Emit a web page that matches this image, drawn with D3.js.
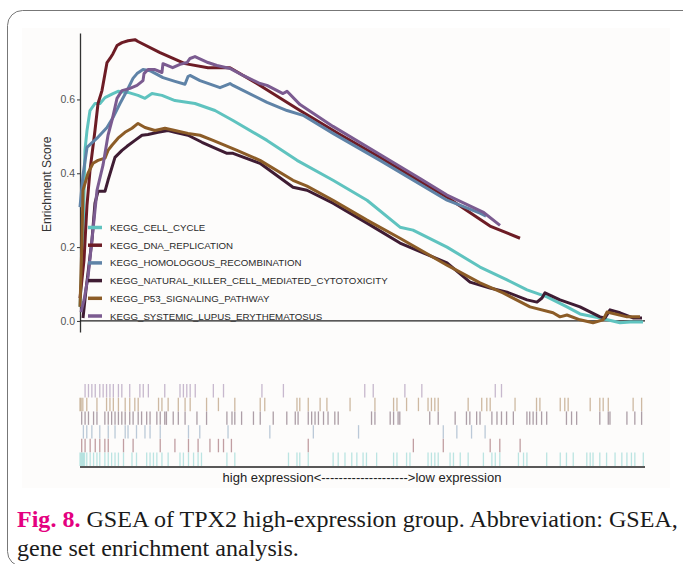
<!DOCTYPE html>
<html>
<head>
<meta charset="utf-8">
<script src="https://cdn.jsdelivr.net/npm/d3@7"></script>
<style>
  body { margin: 0; background: #fff; }
  svg { display: block; }
</style>
</head>
<body>
<main></main>
<script>
// gene sets, in legend order
const setNames = ["KEGG_CELL_CYCLE", "KEGG_DNA_REPLICATION", "KEGG_HOMOLOGOUS_RECOMBINATION",
  "KEGG_NATURAL_KILLER_CELL_MEDIATED_CYTOTOXICITY", "KEGG_P53_SIGNALING_PATHWAY",
  "KEGG_SYSTEMIC_LUPUS_ERYTHEMATOSUS"];
const setColors = ["#5fc3bf", "#6d1c25", "#5f83a7", "#3f1c33", "#8c5c27", "#7b5b90"];

// running enrichment score: [rank %, ES]
const esCellCycle = [[0,0.038],[0.53,0.219],[0.88,0.462],[1.24,0.516],[1.77,0.57],[2.65,0.589],[3.54,0.589],
  [4.42,0.605],[5.84,0.616],[6.73,0.622],[8.5,0.619],[10.27,0.611],[11.5,0.603],[12.74,0.616],[14.51,0.611],
  [16.81,0.597],[20.35,0.589],[23.89,0.57],[27.08,0.543],[33.1,0.489],[38.41,0.435],[44.78,0.381],[50.8,0.327],
  [56.64,0.254],[58.94,0.246],[64.96,0.2],[70.8,0.146],[75.58,0.111],[79.12,0.084],[82.65,0.065],[86.19,0.038],
  [88.5,0.019],[92.04,0.008],[95.58,-0.005],[97.35,-0.003],[99.65,-0.003]];
const esDnaReplication = [[0,0.062],[0.71,0.165],[1.24,0.314],[1.77,0.408],[2.65,0.516],[3.19,0.589],[3.89,0.624],
  [4.78,0.7],[5.31,0.711],[5.84,0.724],[6.55,0.746],[7.43,0.754],[8.5,0.759],[9.73,0.762],[10.27,0.757],
  [14.16,0.727],[18.58,0.697],[22.65,0.686],[26.55,0.686],[31.86,0.638],[38.94,0.57],[46.02,0.505],[53.1,0.443],
  [60.18,0.378],[64.96,0.335],[72.57,0.257],[77.88,0.224]];
const esHomologous = [[0,0.308],[0.53,0.395],[1.24,0.47],[3.01,0.495],[4.78,0.524],[5.84,0.551],[7.08,0.589],
  [8.32,0.624],[9.38,0.657],[10.09,0.67],[11.15,0.681],[12.39,0.678],[14.69,0.659],[16.81,0.649],[18.58,0.641],
  [19.12,0.662],[19.47,0.665],[21.24,0.651],[24.78,0.632],[26.55,0.643],[27.08,0.638],[33.1,0.592],[36.64,0.57],
  [39.47,0.557],[44.78,0.508],[53.1,0.435],[64.96,0.327],[70.8,0.292],[71.86,0.284]];
const esNkCell = [[0.53,0.008],[1.06,0.084],[2.12,0.219],[2.65,0.319],[3.19,0.351],[4.42,0.351],[4.96,0.381],
  [6.19,0.443],[7.43,0.462],[8.32,0.473],[9.73,0.489],[10.97,0.503],[12.04,0.505],[13.81,0.511],[15.58,0.516],
  [16.81,0.511],[19.12,0.503],[21.59,0.484],[23.89,0.468],[26.02,0.454],[27.08,0.454],[31.86,0.427],[37.7,0.362],
  [40.18,0.354],[44.78,0.319],[50.8,0.265],[56.64,0.211],[64.96,0.157],[69.03,0.105],[72.57,0.089],[75.58,0.078],
  [79.12,0.057],[80.88,0.051],[81.77,0.062],[82.3,0.076],[84.96,0.057],[88.5,0.038],[92.04,0.011],[92.92,0.008],
  [93.81,0.03],[95.58,0.022],[97.88,0.008],[99.47,0.008]];
const esP53 = [[0,0.038],[0.35,0.219],[0.53,0.354],[1.42,0.4],[2.3,0.427],[3.19,0.435],[4.42,0.441],[4.96,0.462],
  [5.66,0.476],[6.73,0.495],[7.96,0.511],[9.2,0.522],[10.27,0.535],[11.5,0.524],[13.27,0.516],[15.04,0.522],
  [16.81,0.516],[19.12,0.508],[21.24,0.503],[23.54,0.489],[27.79,0.462],[31.86,0.435],[37.7,0.381],[40.18,0.365],
  [44.78,0.327],[50.8,0.273],[56.64,0.224],[64.96,0.151],[70.8,0.103],[74.87,0.076],[79.65,0.038],[83.72,0.022],
  [84.96,0.011],[86.19,0.016],[88.5,0.003],[90.8,-0.005],[92.57,0.003],[93.27,0.024],[96.81,0.011],[99.12,0.011]];
const esLupus = [[0.18,0.024],[0.71,0.057],[1.42,0.119],[2.3,0.246],[3.01,0.354],[4.07,0.422],[4.96,0.503],
  [5.66,0.543],[6.55,0.603],[7.43,0.624],[8.85,0.63],[10.09,0.638],[11.15,0.651],[11.33,0.67],[12.04,0.681],
  [13.27,0.681],[14.5,0.673],[14.69,0.697],[16.4,0.686],[17.7,0.695],[18.94,0.7],[19.47,0.711],[20.35,0.716],
  [22.65,0.7],[24.25,0.692],[26.55,0.684],[28.85,0.665],[31.86,0.643],[33.1,0.638],[35.93,0.616],[36.64,0.622],
  [38.94,0.586],[44.78,0.527],[53.1,0.451],[60.18,0.386],[64.96,0.341],[71.33,0.295],[74.34,0.259]];

// gene hits (rank %) for the barcode rows
const hitsCellCycle = [0,0.2,0.4,0.6,0.8,1.2,1.8,2.4,3.0,3.5,4.4,5.0,5.6,6.2,6.8,7.7,9.2,10.0,11.8,12.4,13.0,13.6,
  14.5,15.6,17.7,18.3,19.2,20.1,20.9,21.5,26.0,27.4,36.9,38.4,38.9,40.4,44.8,45.7,46.9,48.1,49.0,50.1,50.7,52.5,
  55.5,56.1,57.8,58.4,61.6,62.2,62.8,63.4,65.5,66.1,67.3,68.7,71.4,72.9,73.5,74.3,77.6,78.5,79.1,82.6,85.0,86.1,
  87.3,89.7,90.3,90.8,92.0,93.2,94.7,95.9,96.8,97.6,98.2,99.7];
const hitsDnaReplication = [0.3,0.9,1.8,2.7,3.5,4.4,5.0,7.7,9.4,14.2,16.8,19.2,20.9,23.0,24.5,25.4,26.8,40.4,59.0,
  64.3,72.6,74.3,77.9];
const hitsHomologous = [0.6,1.2,2.1,3.5,5.0,6.2,8.0,8.5,10.0,11.5,12.4,14.2,19.2,21.2,26.2,33.6,41.3,49.3,64.3,
  66.7,69.3,71.7];
const hitsNkCell = [0.3,0.9,1.5,2.4,3.0,4.4,5.0,5.6,6.2,6.8,7.4,8.0,8.8,9.4,10.3,10.9,11.8,12.4,13.6,14.2,15.0,
  15.3,16.5,17.4,18.6,20.7,22.4,26.0,26.9,27.4,28.6,30.7,31.9,34.2,36.6,38.1,38.6,40.4,41.0,41.6,42.2,43.1,43.9,
  45.1,45.7,51.6,52.2,54.9,55.5,56.3,56.6,61.9,63.4,66.4,68.4,69.0,70.2,70.8,72.9,73.8,74.6,75.5,76.7,79.1,79.6,
  80.2,80.8,81.7,82.6,86.1,87.0,87.9,92.0,93.5,93.8,96.8,98.2,99.4];
const hitsP53 = [0,0.2,0.5,1.2,3.0,4.7,5.3,5.9,6.8,8.0,8.8,9.7,10.3,13.9,14.5,15.6,17.4,18.6,19.5,22.4,24.5,27.4,
  31.9,32.7,38.4,38.9,40.4,42.5,43.7,47.8,52.2,55.5,56.1,57.8,59.9,61.6,62.2,62.8,63.4,68.7,71.1,72.0,72.6,77.0,
  80.8,81.4,85.0,85.8,86.4,90.3,92.0,92.6,93.5,97.9,99.4];
const hitsLupus = [0.9,1.5,2.1,2.7,3.5,4.1,4.7,5.3,5.9,6.8,7.4,8.8,10.6,11.2,12.1,15.0,17.7,18.3,18.9,19.5,20.4,
  23.6,25.4,32.2,36.0,50.4,51.9,57.5,60.5,73.5,74.6];

const esSeries = [esCellCycle, esDnaReplication, esHomologous, esNkCell, esP53, esLupus];
const hitSeries = [hitsCellCycle, hitsDnaReplication, hitsHomologous, hitsNkCell, hitsP53, hitsLupus];
const yTicks = [0, 0.2, 0.4, 0.6];

const width = 683, height = 564;
const svg = d3.select("main").append("svg").attr("width", width).attr("height", height);

// page frame
svg.append("rect").attr("x", 7.5).attr("y", 10.5).attr("width", 700).attr("height", 556)
  .attr("rx", 15).attr("fill", "#fff").attr("stroke", "#777").attr("stroke-width", 1);
svg.append("rect").attr("x", 22).attr("y", 28).attr("width", 648).attr("height", 460).attr("fill", "#fdfcfb");

const x = d3.scaleLinear().domain([0, 100]).range([80, 645]);
const y = d3.scaleLinear().domain([-0.03, 0.78]).range([332, 33]);

// y axis
const yAxis = svg.append("g").attr("transform", "translate(80,0)")
  .call(d3.axisLeft(y).tickValues(yTicks).tickFormat(d3.format(".1f")).tickSize(3).tickSizeOuter(0));
yAxis.select(".domain").attr("stroke", "#333").attr("stroke-width", 1.3);
yAxis.selectAll(".tick line").attr("stroke", "#333");
yAxis.selectAll(".tick text").attr("fill", "#555").attr("font-size", 10.5)
  .attr("font-family", "Liberation Sans, Arial, sans-serif").attr("x", -5);

svg.append("text").attr("transform", `translate(51,${y(0.37)}) rotate(-90)`)
  .attr("text-anchor", "middle").attr("font-family", "Liberation Sans, Arial, sans-serif")
  .attr("font-size", 12).attr("fill", "#333").text("Enrichment Score");

// zero line
svg.append("line").attr("x1", x(0)).attr("x2", x(100)).attr("y1", y(0)).attr("y2", y(0))
  .attr("stroke", "#222").attr("stroke-width", 1.3);

// running ES curves
const line = d3.line().x(d => x(d[0])).y(d => y(d[1]));
svg.append("g").selectAll("path").data(esSeries).enter().append("path")
  .attr("d", line).attr("fill", "none")
  .attr("stroke", (d, i) => setColors[i]).attr("stroke-width", 3)
  .attr("stroke-linejoin", "round");

// legend
const legend = svg.append("g").selectAll("g").data(setNames).enter().append("g")
  .attr("transform", (d, i) => `translate(0,${227.5 + i * 17.7})`);
legend.append("line").attr("x1", 88).attr("x2", 102).attr("y1", 0).attr("y2", 0)
  .attr("stroke", (d, i) => setColors[i]).attr("stroke-width", 3.5);
legend.append("text").attr("x", 110).attr("y", 3.5).attr("font-size", 9.7)
  .attr("font-family", "Liberation Sans, Arial, sans-serif").attr("fill", "#2a2a2a").text(d => d);

// barcode rows, cell cycle at the bottom
const rows = d3.scaleBand().domain(d3.range(6).reverse()).range([384, 466]).paddingInner(0.02);
svg.append("g").selectAll("g").data(hitSeries).enter().append("g")
  .each(function(hits, i) {
    d3.select(this).selectAll("line").data(hits).enter().append("line")
      .attr("x1", d => x(d)).attr("x2", d => x(d))
      .attr("y1", rows(i)).attr("y2", rows(i) + rows.bandwidth())
      .attr("stroke", setColors[i]).attr("stroke-width", 1.3).attr("stroke-opacity", 0.42);
  });
svg.append("line").attr("x1", x(0)).attr("x2", x(100)).attr("y1", 467).attr("y2", 467)
  .attr("stroke", "#222").attr("stroke-width", 1.5);
svg.append("text").attr("x", 362).attr("y", 481.5).attr("text-anchor", "middle")
  .attr("font-family", "Liberation Sans, Arial, sans-serif").attr("font-size", 13).attr("fill", "#222")
  .text("high expression<-------------------->low expression");

// caption, sized so the first line spans the panel width
const capFont = "Liberation Serif, Times New Roman, serif";
const cap = svg.append("text").attr("x", 17).attr("y", 527)
  .attr("font-family", capFont).attr("font-size", 21).attr("fill", "#1a1a1a");
cap.append("tspan").attr("fill", "#e4007f").attr("font-weight", "bold").text("Fig. 8.");
cap.append("tspan").text(" GSEA of TPX2 high-expression group. Abbreviation: GSEA,");
const capSize = 21 * 661 / cap.node().getComputedTextLength();
cap.attr("font-size", capSize);
svg.append("text").attr("x", 17).attr("y", 556)
  .attr("font-family", capFont).attr("font-size", capSize).attr("fill", "#1a1a1a")
  .text("gene set enrichment analysis.");
</script>
</body>
</html>
